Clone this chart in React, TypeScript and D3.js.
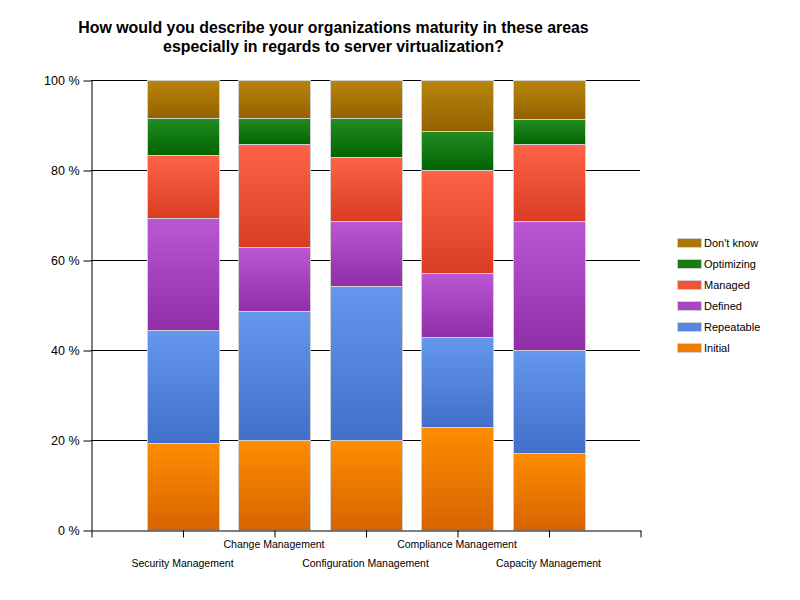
import * as d3 from "d3";
import React, { useEffect, useRef } from "react";

const categories = [
    "Security Management",
    "Change Management",
    "Configuration Management",
    "Compliance Management",
    "Capacity Management",
];
const seriesNames = ["Initial", "Repeatable", "Defined", "Managed", "Optimizing", "Don't know"];
// percent of respondents per category, bottom to top
const initial = [19.4, 20.0, 20.0, 22.9, 17.1];
const repeatable = [25.0, 28.6, 34.3, 20.0, 22.9];
const defined = [25.0, 14.3, 14.3, 14.3, 28.6];
const managed = [13.9, 22.9, 14.3, 22.9, 17.1];
const optimizing = [8.3, 5.7, 8.6, 8.6, 5.7];
const dontKnow = [8.3, 8.6, 8.6, 11.4, 8.6];
const yTicks = [0, 20, 40, 60, 80, 100];

const colors: Array<[string, string]> = [
    ["#ff8c00", "#d66400"],
    ["#6597ee", "#416fc9"],
    ["#bb57d4", "#8f2ea6"],
    ["#ff6347", "#d83c22"],
    ["#238c23", "#006400"],
    ["#b8860b", "#946000"],
];

const width = 800;
const height = 600;
const font = "'Liberation Sans', Arial, sans-serif";

const App: React.FC = () => {
    const wrapper = useRef<SVGSVGElement>(null);

    useEffect(() => {
        if (!wrapper.current) return;
        const chart = d3.select(wrapper.current);
        chart.selectAll("*").remove();
        chart.attr("width", width).attr("height", height).attr("viewBox", [0, 0, width, height]);

        const values = [initial, repeatable, defined, managed, optimizing, dontKnow];
        const rows = categories.map((c, i) => {
            const row: Record<string, number | string> = { category: c };
            seriesNames.forEach((s, k) => (row[s] = values[k][i]));
            return row;
        });
        const stacked = d3.stack<Record<string, number | string>>()
            .keys(seriesNames)
            .value((d, key) => d[key] as number)(rows);

        const x = d3.scaleLinear().domain([0, categories.length + 1]).range([91, 640]);
        const y = d3.scaleLinear().domain([0, 100]).range([530, 80]);
        const barWidth = 72;

        const defs = chart.append("defs");
        colors.forEach(([top, bottom], k) => {
            const g = defs.append("linearGradient")
                .attr("id", `grad_${k}`)
                .attr("x1", 0).attr("y1", 0).attr("x2", 0).attr("y2", 1);
            g.append("stop").attr("offset", "0%").attr("stop-color", top);
            g.append("stop").attr("offset", "100%").attr("stop-color", bottom);
        });

        // title
        chart.append("text")
            .attr("x", 333.5)
            .attr("text-anchor", "middle")
            .style("font-family", font)
            .style("font-size", "15.9px")
            .style("font-weight", "bold")
            .selectAll("tspan")
            .data([
                "How would you describe your organizations maturity in these areas",
                "especially in regards to server virtualization?",
            ])
            .join("tspan")
            .attr("x", 333.5)
            .attr("y", (_, i) => 33 + i * 19)
            .text((d) => d);

        // grid lines
        chart.append("g")
            .selectAll("line")
            .data(yTicks.slice(1))
            .join("line")
            .attr("x1", x(0))
            .attr("x2", x(categories.length + 1))
            .attr("y1", (d) => Math.round(y(d)) + 0.5)
            .attr("y2", (d) => Math.round(y(d)) + 0.5)
            .attr("stroke", "#000");

        // bars
        chart.append("g")
            .selectAll("g")
            .data(stacked)
            .join("g")
            .attr("fill", (_, k) => `url(#grad_${k})`)
            .selectAll("rect")
            .data((d) => d)
            .join("rect")
            .attr("x", (_, i) => Math.round(x(i + 1) - barWidth / 2) + 0.5)
            .attr("y", (d) => Math.round(y(d[1])) + 0.5)
            .attr("width", barWidth)
            .attr("height", (d) => Math.round(y(d[0])) - Math.round(y(d[1])))
            .attr("stroke", "#d0d0d0")
            .attr("stroke-width", 1);

        // y axis
        const yAxis = chart.append("g")
            .attr("transform", `translate(${x(0) + 0.5},0.5)`)
            .call(
                d3.axisLeft(y)
                    .tickValues(yTicks)
                    .tickSize(8)
                    .tickPadding(4)
                    .tickSizeOuter(0)
                    .tickFormat((d) => `${d} %`)
            );
        yAxis.selectAll("text")
            .attr("fill", "#000")
            .style("font-family", font)
            .style("font-size", "12.5px");
        yAxis.selectAll("line, path").attr("stroke", "#000");

        // x axis
        const xAxis = chart.append("g")
            .attr("transform", `translate(0.5,${y(0) + 0.5})`)
            .call(
                d3.axisBottom(x)
                    .tickValues(d3.range(0, categories.length + 2))
                    .tickSize(7)
                    .tickSizeOuter(0)
                    .tickFormat(() => "")
            );
        xAxis.selectAll("line, path").attr("stroke", "#000");

        chart.append("g")
            .selectAll("text")
            .data(categories)
            .join("text")
            .attr("x", (_, i) => x(i + 1))
            .attr("y", (_, i) => (i % 2 === 0 ? 567 : 548))
            .attr("text-anchor", "middle")
            .style("font-family", font)
            .style("font-size", "10.5px")
            .text((d) => d);

        // legend
        const legend = chart.append("g").attr("transform", "translate(677,0)");
        const legendItems = legend
            .selectAll("g")
            .data(seriesNames.map((s, k) => ({ s, k })).reverse())
            .join("g")
            .attr("transform", (_, i) => `translate(0,${243 + i * 21})`);
        legendItems.append("rect")
            .attr("x", 0.5)
            .attr("y", -4.5)
            .attr("width", 24)
            .attr("height", 9)
            .attr("fill", (d) => d3.interpolateRgb(colors[d.k][0], colors[d.k][1])(0.4))
            .attr("stroke", "#d0d0d0");
        legendItems.append("text")
            .attr("x", 27)
            .attr("y", 4)
            .style("font-family", font)
            .style("font-size", "11px")
            .text((d) => d.s);
    }, []);

    return (
        <svg
            ref={wrapper}
            style={{ position: "absolute", left: 0, top: 0, display: "block", background: "#fff" }}
        />
    );
};

export default App;
